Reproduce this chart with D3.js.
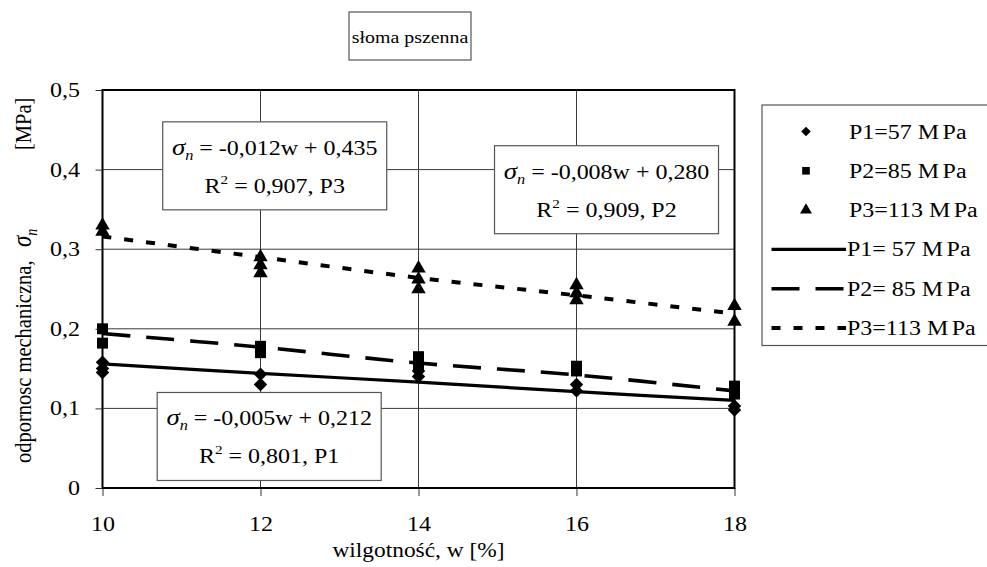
<!DOCTYPE html>
<html>
<head>
<meta charset="utf-8">
<script src="https://cdn.jsdelivr.net/npm/d3@7"></script>
<style>
  html, body { margin: 0; padding: 0; background: #fff; }
  svg { display: block; }
</style>
</head>
<body>
<div id="chart"></div>
<script>
// moisture levels (x) and measured points per pressure
const moisture = [10, 12, 14, 16, 18];
const p1Points = [[0.158, 0.150, 0.145], [0.143, 0.130], [0.147, 0.140], [0.130, 0.122], [0.103, 0.098]];
const p2Points = [[0.200, 0.182], [0.178, 0.170], [0.165, 0.155], [0.153, 0.147], [0.128, 0.118]];
const p3Points = [[0.330, 0.322], [0.290, 0.280, 0.270], [0.276, 0.262, 0.250], [0.255, 0.245, 0.236], [0.229, 0.209]];
// smoothed trend lines
const p1Line = [0.156, 0.144, 0.133, 0.121, 0.110];
const p2Line = [0.194, 0.177, 0.157, 0.142, 0.122];
const p3Line = [0.316, 0.290, 0.264, 0.242, 0.219];

const xTicks = [10, 12, 14, 16, 18];
const yTicks = [0, 0.1, 0.2, 0.3, 0.4, 0.5];

const legendMarkers = ["P1=57 ", "P2=85 ", "P3=113 "];
const legendLines = ["P1= 57 ", "P2= 85 ", "P3=113 "];

const equations = [
  { eq: " = -0,012w + 0,435", r2: " = 0,907, P3", cx: 12.18, top: 0.46 },
  { eq: " = -0,008w + 0,280", r2: " = 0,909, P2", cx: 16.38, top: 0.43 },
  { eq: " = -0,005w + 0,212", r2: " = 0,801, P1", cx: 12.11, top: 0.12 }
];

const W = 987, H = 567;
const SX = 1.17; // the picture is stretched sideways
const FONT = "'Liberation Serif', 'Times New Roman', serif";
const margin = { left: 102.5, top: 90, right: 252.5, bottom: 79 };

const svg = d3.select("#chart").append("svg").attr("width", W).attr("height", H)
    .style("font-family", FONT);

const x = d3.scaleLinear().domain([10, 18]).range([margin.left, W - margin.right]);
const y = d3.scaleLinear().domain([0, 0.5]).range([H - margin.bottom, margin.top]);
const fmt = d => d === 0 ? "0" : d3.format(".1f")(d).replace(".", ",");

function stretched(parent, px, py, size, anchor) {
    return parent.append("text")
        .attr("transform", `translate(${px},${py}) scale(${SX},1)`)
        .attr("font-size", size).attr("text-anchor", anchor || "start").attr("fill", "#000");
}

// grid
const grid = svg.append("g");
grid.selectAll("line.gx").data(xTicks.slice(1, -1)).enter().append("line")
    .attr("x1", d => x(d)).attr("x2", d => x(d)).attr("y1", y(0)).attr("y2", y(0.5))
    .attr("stroke", "#3a3a3a").attr("stroke-width", 1);
grid.selectAll("line.gy").data(yTicks.slice(1, -1)).enter().append("line")
    .attr("x1", x(10)).attr("x2", x(18)).attr("y1", d => y(d)).attr("y2", d => y(d))
    .attr("stroke", "#3a3a3a").attr("stroke-width", 1);

// axes
const yAxis = svg.append("g").attr("transform", `translate(${x(10)},0)`)
    .call(d3.axisLeft(y).tickValues(yTicks).tickFormat(fmt).tickSize(7).tickPadding(15));
const xAxis = svg.append("g").attr("transform", `translate(0,${y(0)})`)
    .call(d3.axisBottom(x).tickValues(xTicks).tickFormat(d3.format("d")).tickSize(8));
[yAxis, xAxis].forEach(a => {
    a.attr("font-family", FONT).attr("font-size", 20.5);
    a.select(".domain").remove();
    a.selectAll(".tick line").attr("stroke", "#333");
    a.selectAll(".tick text").attr("fill", "#000");
});
yAxis.selectAll(".tick text").attr("x", -22.5 / SX).attr("transform", `scale(${SX},1)`);
xAxis.selectAll(".tick text").attr("y", 43).attr("dy", 0).attr("transform", `scale(${SX},1)`);

// frame
svg.append("rect").attr("x", x(10)).attr("y", y(0.5)).attr("width", x(18) - x(10)).attr("height", y(0) - y(0.5))
    .attr("fill", "none").attr("stroke", "#000").attr("stroke-width", 2);

// markers
const sym = {
    p1: d3.symbol().type(d3.symbolDiamond2),
    p2: d3.symbol().type(d3.symbolSquare),
    p3: d3.symbol().type(d3.symbolTriangle)
};
function drawPoints(points, key, size) {
    const flat = [];
    points.forEach((vals, i) => vals.forEach(v => flat.push([moisture[i], v])));
    svg.append("g").selectAll("path").data(flat).enter().append("path")
        .attr("transform", d => `translate(${x(d[0])},${y(d[1])})`)
        .attr("d", sym[key].size(size)()).attr("fill", "#000");
}
drawPoints(p1Points, "p1", 115);
drawPoints(p2Points, "p2", 120);
drawPoints(p3Points, "p3", 90);

// trend lines
const line = d3.line().x((d, i) => x(moisture[i])).y(d => y(d)).curve(d3.curveCatmullRom.alpha(0.5));
const styles = [
    { data: p1Line, dash: null, w: 3.2 },
    { data: p2Line, dash: "28,16", w: 3.6 },
    { data: p3Line, dash: "9,13", w: 4 }
];
styles.forEach(s => {
    svg.append("path").datum(s.data).attr("d", line).attr("fill", "none")
        .attr("stroke", "#000").attr("stroke-width", s.w).attr("stroke-dasharray", s.dash);
});

// equation boxes
const boxW = 224, boxH = 88;
equations.forEach(e => {
    const cx = x(e.cx), top = y(e.top);
    const g = svg.append("g");
    g.append("rect").attr("x", cx - boxW / 2).attr("y", top).attr("width", boxW).attr("height", boxH)
        .attr("fill", "#fff").attr("stroke", "#555").attr("stroke-width", 1.2);
    const t1 = stretched(g, cx, top + 33, 20.5, "middle");
    t1.append("tspan").attr("font-style", "italic").attr("font-size", 23).text("σ");
    t1.append("tspan").attr("font-style", "italic").attr("font-size", 14).attr("dy", 5).text("n");
    t1.append("tspan").attr("dy", -5).text(e.eq);
    const t2 = stretched(g, cx, top + 71, 20.5, "middle");
    t2.append("tspan").text("R");
    t2.append("tspan").attr("font-size", 13).attr("dy", -9).text("2");
    t2.append("tspan").attr("dy", 9).text(e.r2);
});

// title box
svg.append("rect").attr("x", 349).attr("y", 12).attr("width", 122).attr("height", 48)
    .attr("fill", "#fff").attr("stroke", "#555").attr("stroke-width", 1.2);
stretched(svg, 410, 43, 17, "middle").text("słoma pszenna");

// axis titles
stretched(svg, x(14), 557, 20, "middle").text("wilgotność, w [%]");
const yl = svg.append("g").attr("transform", "translate(31,0)");
[["odpornosc mechaniczna,", 463], ["", 247], ["[MPa]", 150]].forEach(([txt, py], i) => {
    const t = yl.append("text").attr("transform", `translate(0,${py}) rotate(-90) scale(1,${SX})`)
        .attr("font-size", 20.5).attr("fill", "#000");
    if (i === 1) {
        t.append("tspan").attr("font-style", "italic").attr("font-size", 23).text("σ");
        t.append("tspan").attr("font-style", "italic").attr("font-size", 14).attr("dy", 5).text("n");
    } else t.text(txt);
});

// legend
const lg = svg.append("g");
lg.append("rect").attr("x", 762).attr("y", 105).attr("width", 240).attr("height", 240.5)
    .attr("fill", "#fff").attr("stroke", "#555").attr("stroke-width", 1.2);
const rowY = i => 131.5 + i * 39.3;
function unitLabel(t, lead) {
    t.append("tspan").text(lead + "M");
    t.append("tspan").attr("dx", 3).text("Pa");
}
["p1", "p2", "p3"].forEach((k, i) => {
    lg.append("path").attr("transform", `translate(806,${rowY(i)})`)
        .attr("d", sym[k].size(k === "p3" ? 62 : 58)()).attr("fill", "#000");
    unitLabel(stretched(lg, 849, rowY(i) + 7, 20.5), legendMarkers[i]);
});
styles.forEach((s, i) => {
    const yy = rowY(i + 3);
    lg.append("line").attr("x1", 771.5).attr("x2", 846).attr("y1", yy).attr("y2", yy)
        .attr("stroke", "#000").attr("stroke-width", s.w).attr("stroke-dasharray", s.dash);
    unitLabel(stretched(lg, 847, yy + 7, 20.5), legendLines[i]);
});
</script>
</body>
</html>
